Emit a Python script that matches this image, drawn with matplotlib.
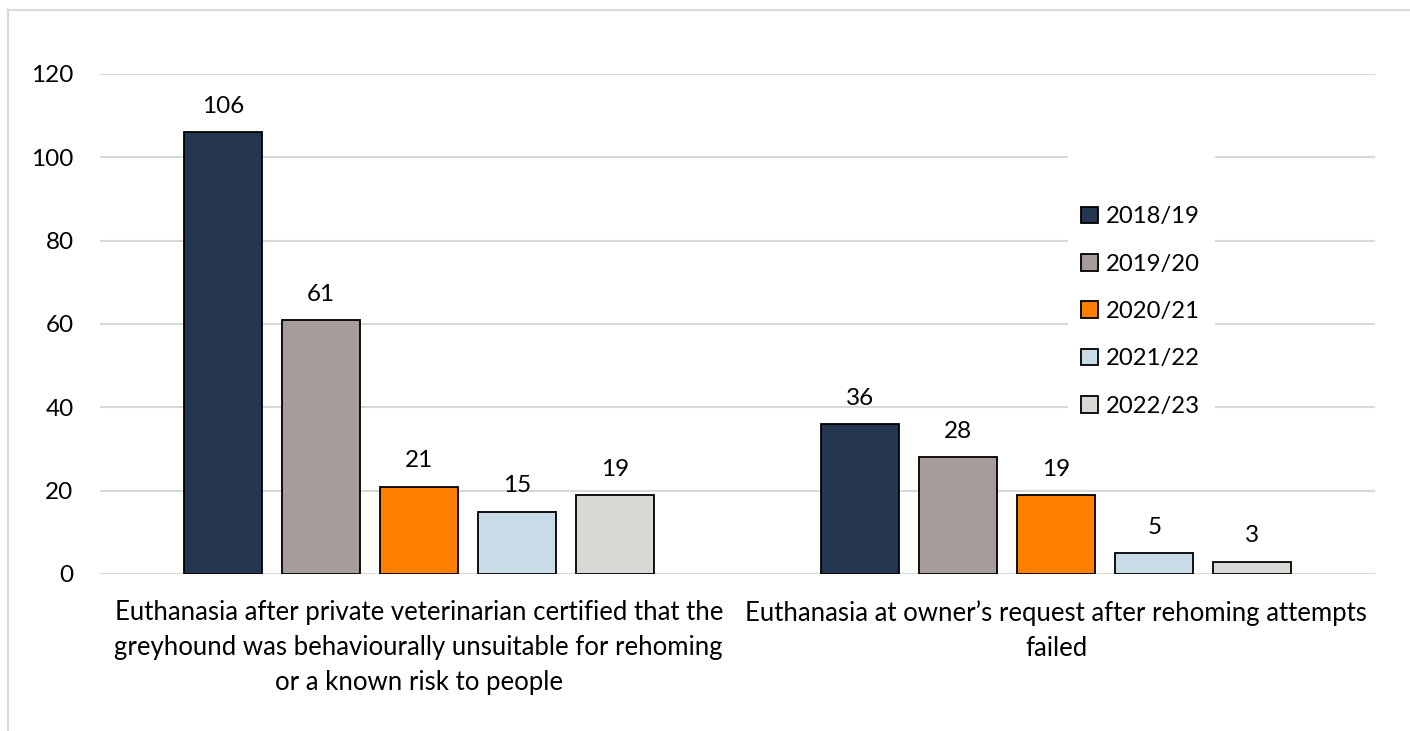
import numpy as np
import matplotlib.pyplot as plt
from matplotlib.lines import Line2D
from matplotlib.patches import Rectangle

# Euthanasia counts per reason and financial year
categories = ['Euthanasia after private veterinarian certified that the\n'
              'greyhound was behaviourally unsuitable for rehoming\n'
              'or a known risk to people',
              'Euthanasia at owner\u2019s request after rehoming attempts\n'
              'failed']
years = ['2018/19', '2019/20', '2020/21', '2021/22', '2022/23']
counts = {
    '2018/19': [106, 36],
    '2019/20': [61, 28],
    '2020/21': [21, 19],
    '2021/22': [15, 5],
    '2022/23': [19, 3],
}
colours = ['#243650', '#A69D9A', '#FF8000', '#C9DBE6', '#D9D8D4']

plt.rcParams['font.family'] = ['Lato', 'DejaVu Sans']

fig = plt.figure(figsize=(14.1, 7.31), dpi=100)
ax = fig.add_axes([100 / 1410, 1 - 574 / 731, 1275 / 1410, 500 / 731])

x = np.arange(len(categories))
width = 0.1224
step = 0.1537
for i, yr in enumerate(years):
    pos = x + (i - 2) * step
    bars = ax.bar(pos, counts[yr], width, color=colours[i], edgecolor='black',
                  linewidth=1.3, label=yr, zorder=3)
    for b, v in zip(bars, counts[yr]):
        ax.annotate(str(v), (b.get_x() + b.get_width() / 2, v),
                    xytext=(0, 11), textcoords='offset points',
                    ha='center', va='bottom', fontsize=17.5)

ax.set_xlim(-0.5, 1.5)
ax.set_ylim(0, 120)
ax.set_yticks(range(0, 121, 20))
ax.grid(axis='y', color='#D9D9D9', linewidth=1.5, zorder=0)
for s in ax.spines.values():
    s.set_visible(False)
ax.tick_params(axis='y', length=0, labelsize=17.5, pad=19)
ax.tick_params(axis='x', length=0, labelsize=18.5, pad=19)
ax.set_xticks(x)
ax.set_xticklabels(categories, linespacing=1.5)

# white panel behind the legend hides the gridlines there
ax.add_patch(Rectangle((968 / 1275, 0.27), 147 / 1275, 0.6,
                       transform=ax.transAxes, facecolor='white',
                       edgecolor='none', zorder=2.5))
leg = ax.legend(loc='center left', bbox_to_anchor=(0.749, 0.525), frameon=False,
                fontsize=17.2, handlelength=0.7, handleheight=0.7,
                handletextpad=0.35, labelspacing=1.1, borderpad=0.6)
leg.set_zorder(5)

# light border around the chart area (top and left edges)
fig.add_artist(Line2D([8 / 1410, 1], [1 - 10 / 731, 1 - 10 / 731],
                      color='#D9D9D9', linewidth=1.5))
fig.add_artist(Line2D([8 / 1410, 8 / 1410], [0, 1 - 10 / 731],
                      color='#D9D9D9', linewidth=1.5))

fig.savefig('out.png', dpi=100)
